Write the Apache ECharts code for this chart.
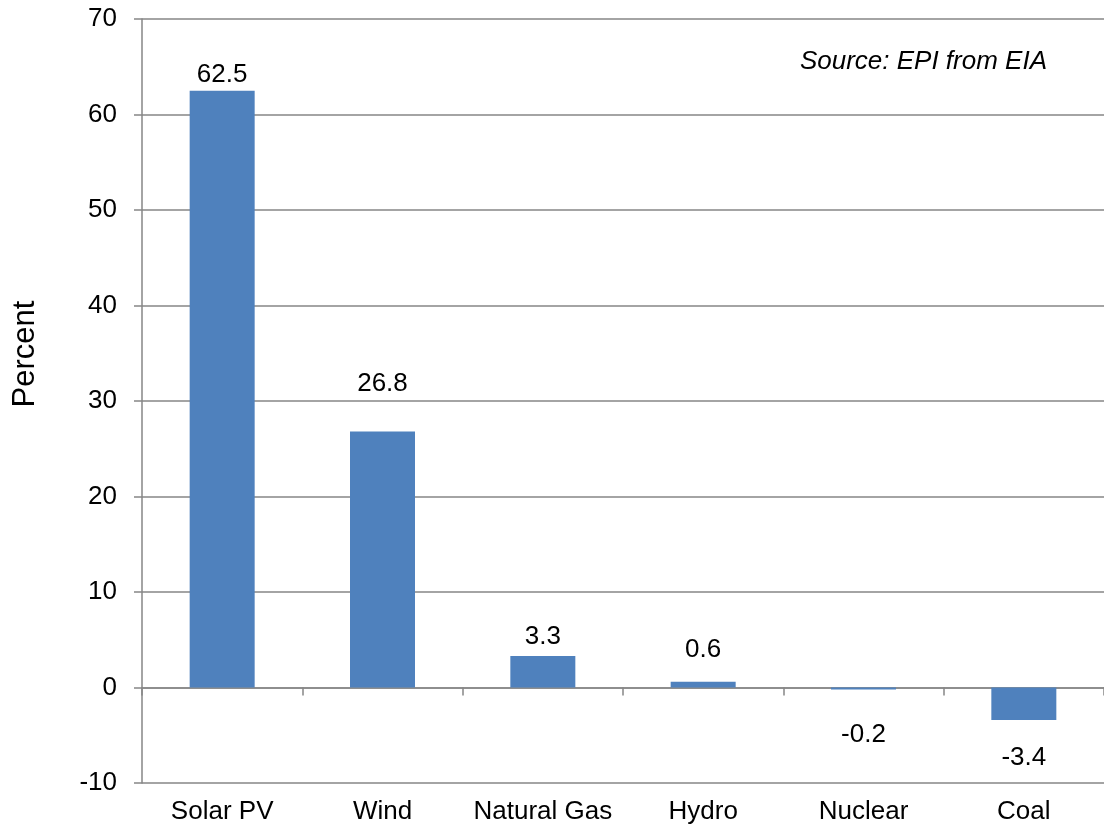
<!DOCTYPE html>
<html>
<head>
<meta charset="utf-8">
<script src="https://cdn.jsdelivr.net/npm/echarts@6/dist/echarts.min.js"></script>
<style>
html,body{margin:0;padding:0;background:#fff;}
#chart{width:1104px;height:834px;}
</style>
</head>
<body>
<div id="chart"></div>
<script>
const categories = ['Solar PV', 'Wind', 'Natural Gas', 'Hydro', 'Nuclear', 'Coal'];
const values = [62.5, 26.8, 3.3, 0.6, -0.2, -3.4];
const yTicks = { min: -10, max: 70, interval: 10 };
const sourceText = 'Source: EPI from EIA';
const yAxisTitle = 'Percent';

// label distances (visual placement only)
const labelGap = [3, 35, 6, 19, 32, 25];

const FONT = 'Liberation Sans, Arial, sans-serif';
const barData = values.map((v, i) => ({
  value: v,
  label: { position: v >= 0 ? 'top' : 'bottom', distance: labelGap[i] }
}));

const chart = echarts.init(document.getElementById('chart'));
chart.setOption({
  animation: false,
  backgroundColor: '#fff',
  grid: { left: 142, right: 0, top: 19, bottom: 51 },
  title: {
    text: sourceText,
    right: 52, top: 44,
    textStyle: { fontFamily: FONT, fontStyle: 'italic', fontWeight: 'normal', fontSize: 26, color: '#000' }
  },
  graphic: [{
    type: 'text',
    x: 41, y: 354,
    rotation: Math.PI / 2,
    style: {
      text: yAxisTitle,
      font: '31px ' + FONT,
      fill: '#000',
      align: 'center',
      verticalAlign: 'bottom'
    }
  }],
  xAxis: [{
    type: 'category',
    data: categories,
    axisLine: { onZero: true, lineStyle: { color: '#868686', width: 1.5 } },
    axisTick: { show: true, length: 8, lineStyle: { color: '#868686', width: 1.5 } },
    axisLabel: { show: false }
  }, {
    type: 'category',
    data: categories,
    position: 'bottom',
    axisLine: { show: false, onZero: false },
    axisTick: { show: false },
    axisLabel: { show: true, interval: 0, margin: 16, fontFamily: FONT, fontSize: 26, color: '#000' }
  }],
  yAxis: {
    type: 'value',
    min: yTicks.min, max: yTicks.max, interval: yTicks.interval,
    axisLine: { show: true, lineStyle: { color: '#868686', width: 1.5 } },
    axisTick: { show: true, length: 8, lineStyle: { color: '#868686', width: 1.5 } },
    axisLabel: { margin: 25, fontFamily: FONT, fontSize: 26, color: '#000' },
    splitLine: { show: true, lineStyle: { color: '#868686', width: 1.5 } }
  },
  series: [{
    type: 'bar',
    xAxisIndex: 0,
    data: barData,
    barWidth: 65,
    itemStyle: { color: '#4F81BD' },
    label: { show: true, fontFamily: FONT, fontSize: 26, color: '#000', formatter: p => p.value.toFixed(1) }
  }]
});
</script>
</body>
</html>
